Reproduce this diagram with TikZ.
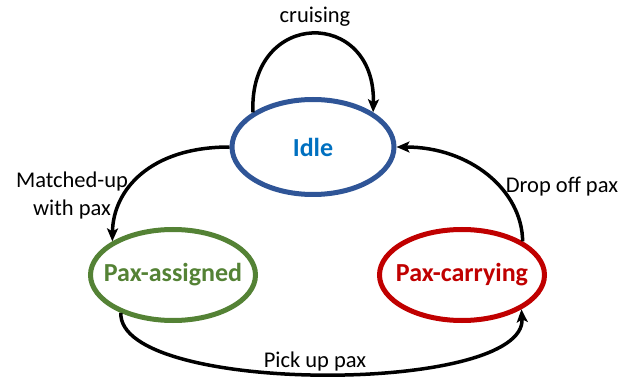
\documentclass[tikz,border=0pt]{standalone}
\usepackage{fontspec}
\setmainfont{Carlito}
\usetikzlibrary{shapes.geometric,arrows.meta}
\definecolor{idleblue}{RGB}{47,85,151}
\definecolor{idletext}{RGB}{0,112,192}
\definecolor{assgreen}{RGB}{84,130,53}
\definecolor{carryred}{RGB}{192,0,0}
\begin{document}
\begin{tikzpicture}[x=1pt,y=-1pt,
  state/.style={ellipse,draw,line width=5pt,inner sep=0pt},
  stlbl/.style={font=\fontsize{26}{30}\selectfont\bfseries,inner sep=0pt},
  trans/.style={line width=3.5pt,-{Stealth[length=13pt,width=11pt,inset=3pt]}},
  lbl/.style={font=\fontsize{22.5}{28}\selectfont,align=center,inner sep=0pt}]
\useasboundingbox (0,0) rectangle (642,379);
\node[state,draw=idleblue,minimum width=162pt,minimum height=95pt,
  label={[stlbl,text=idletext]center:Idle}] (idle) at (313,147) {};
\node[state,draw=assgreen,minimum width=165pt,minimum height=91pt,
  label={[stlbl,text=assgreen]center:Pax-assigned}] (ass) at (173,275) {};
\node[state,draw=carryred,minimum width=165pt,minimum height=91pt,
  label={[stlbl,text=carryred]center:Pax-carrying}] (carry) at (462,275) {};
\draw[trans] (idle.150) .. controls (249,8) and (376,8) .. (idle.30);
\draw[trans] (idle.west) .. controls (150,147) and (113,190) .. (ass.151);
\draw[trans] (carry.29) .. controls (522,190) and (470,147) .. (idle.east);
\draw[trans] (ass.216) .. controls (118,395) and (527,395) .. (carry.-30);
\node[lbl] (l1) at (315,17) {cruising};
\node[lbl] (l2) at (72,196) {Matched-up\\with pax};
\node[lbl] (l3) at (562,187) {Drop off pax};
\node[lbl] (l4) at (315,362) {Pick up pax};
\end{tikzpicture}
\end{document}
